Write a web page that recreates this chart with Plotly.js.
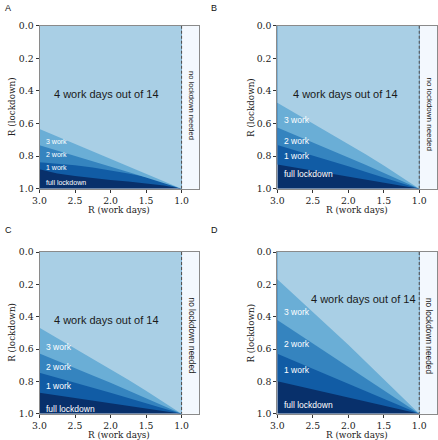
<!DOCTYPE html>
<html>
<head>
<meta charset="utf-8">
<script src="https://cdn.plot.ly/plotly-3.0.1.min.js"></script>
<style>html,body{margin:0;padding:0;background:#fff;}#chart{width:438px;height:440px;}</style>
</head>
<body>
<div id="chart"></div>
<script>
// R on work days (x axis)
const rWork = [3.0, 2.75, 2.5, 2.25, 2.0, 1.75, 1.5, 1.25, 1.0];

// Upper edges (R lockdown) of each band, panel A
const aFullTop  = [0.880, 0.906, 0.922, 0.935, 0.946, 0.956, 0.967, 0.980, 1.0];
const aOneTop   = [0.837, 0.845, 0.856, 0.870, 0.887, 0.906, 0.928, 0.956, 1.0];
const aTwoTop   = [0.733, 0.765, 0.797, 0.830, 0.863, 0.897, 0.931, 0.965, 1.0];
const aThreeTop = [0.634, 0.680, 0.726, 0.772, 0.817, 0.863, 0.909, 0.954, 1.0];
// panel B
const bFullTop  = [0.852, 0.870, 0.889, 0.907, 0.926, 0.944, 0.963, 0.981, 1.0];
const bOneTop   = [0.732, 0.764, 0.797, 0.830, 0.863, 0.897, 0.931, 0.965, 1.0];
const bTwoTop   = [0.625, 0.670, 0.716, 0.762, 0.808, 0.855, 0.903, 0.951, 1.0];
const bThreeTop = [0.472, 0.535, 0.598, 0.661, 0.725, 0.790, 0.858, 0.928, 1.0];
// panel C
const cFullTop  = [0.870, 0.886, 0.902, 0.918, 0.934, 0.951, 0.967, 0.983, 1.0];
const cOneTop   = [0.746, 0.776, 0.807, 0.839, 0.871, 0.903, 0.935, 0.967, 1.0];
const cTwoTop   = [0.628, 0.672, 0.717, 0.763, 0.809, 0.856, 0.903, 0.951, 1.0];
const cThreeTop = [0.468, 0.532, 0.596, 0.660, 0.725, 0.790, 0.858, 0.928, 1.0];
// panel D
const dFullTop  = [0.800, 0.825, 0.850, 0.875, 0.900, 0.925, 0.950, 0.975, 1.0];
const dOneTop   = [0.630, 0.676, 0.722, 0.768, 0.815, 0.861, 0.907, 0.954, 1.0];
const dTwoTop   = [0.420, 0.493, 0.566, 0.639, 0.712, 0.784, 0.856, 0.928, 1.0];
const dThreeTop = [0.168, 0.268, 0.368, 0.470, 0.574, 0.680, 0.786, 0.893, 1.0];

const panelLetters = ['A', 'B', 'C', 'D'];
const bandLabels = ['3 work', '2 work', '1 work', 'full lockdown'];
const mainLabel = '4 work days out of 14';
const sideLabel = 'no lockdown needed';
const xTitle = 'R (work days)';
const yTitle = 'R (lockdown)';
const xTicks = [3.0, 2.5, 2.0, 1.5, 1.0];
const yTicks = [0.0, 0.2, 0.4, 0.6, 0.8, 1.0];

const colLight = '#a9cfe5', col3 = '#6aaed6', col2 = '#3584bf', col1 = '#115ca5', colFull = '#08306b';

const panels = [
  {full: aFullTop, one: aOneTop, two: aTwoTop, three: aThreeTop, sfx: '',
   labY: [0.712, 0.793, 0.871, 0.965], labFs: 7, mainX: 2.06, mainY: 0.42, sideY: 0.49, sideFs: 7.5},
  {full: bFullTop, one: bOneTop, two: bTwoTop, three: bThreeTop, sfx: '2',
   labY: [0.579, 0.710, 0.800, 0.912], labFs: 8.5, mainX: 2.04, mainY: 0.42, sideY: 0.54, sideFs: 8},
  {full: cFullTop, one: cOneTop, two: cTwoTop, three: cThreeTop, sfx: '3',
   labY: [0.588, 0.709, 0.827, 0.969], labFs: 8.5, mainX: 2.06, mainY: 0.42, sideY: 0.52, sideFs: 8.3},
  {full: dFullTop, one: dOneTop, two: dTwoTop, three: dThreeTop, sfx: '4',
   labY: [0.371, 0.567, 0.732, 0.946], labFs: 8.5, mainX: 1.78, mainY: 0.29, sideY: 0.52, sideFs: 8.3}
];

const sans = 'Liberation Sans, Arial, sans-serif';
const serif = 'DejaVu Serif';
const traces = [], shapes = [], annotations = [];
panels.forEach((p, i) => {
  const xr = 'x' + p.sfx, yr = 'y' + p.sfx;
  shapes.push({type: 'rect', xref: xr, yref: yr, x0: rWork[0], x1: rWork[rWork.length - 1], y0: 0, y1: 1,
               fillcolor: colFull, line: {width: 0}, layer: 'below'});
  [[p.full, col1], [p.one, col2], [p.two, col3], [p.three, colLight]].forEach(([ys, c]) => {
    traces.push({x: rWork, y: ys, xaxis: xr, yaxis: yr, type: 'scatter', mode: 'lines',
                 line: {width: 0, color: c}, fill: 'tozeroy', fillcolor: c, hoverinfo: 'skip', showlegend: false});
  });
  shapes.push({type: 'line', xref: xr, yref: yr, x0: 1.0, x1: 1.0, y0: 0, y1: 1,
               line: {color: '#555', width: 1.1, dash: '3px,2px'}});
  annotations.push({xref: xr, yref: yr, x: p.mainX, y: p.mainY, text: mainLabel, showarrow: false,
                    font: {family: sans, size: 11, color: '#1a1a1a'}});
  annotations.push({xref: xr, yref: yr, x: 0.86, y: p.sideY, text: sideLabel, showarrow: false, textangle: 90,
                    font: {family: sans, size: p.sideFs, color: '#1a1a1a'}});
  bandLabels.forEach((t, k) => {
    annotations.push({xref: xr, yref: yr, x: 2.93, y: p.labY[k], text: t, showarrow: false, xanchor: 'left',
                      font: {family: sans, size: p.labFs, color: '#ffffff'}});
  });
});

const letterPos = [[3, 8], [209, 8], [3, 230], [209, 230]];
panelLetters.forEach((l, i) => {
  annotations.push({xref: 'paper', yref: 'paper', x: letterPos[i][0] / 438, y: 1 - letterPos[i][1] / 440,
                    xanchor: 'left', yanchor: 'middle', text: l, showarrow: false,
                    font: {family: sans, size: 9, color: '#111'}});
});

// axis titles (pixel centres)
const xTitlePos = [[119.4, 210.3], [357.2, 210.3], [119.4, 434.6], [357.2, 434.6]];
const yTitlePos = [[12.0, 107.2], [250.8, 107.2], [12.0, 332.8], [250.8, 332.8]];
xTitlePos.forEach(([px, py]) => {
  annotations.push({xref: 'paper', yref: 'paper', x: px / 438, y: 1 - py / 440, xanchor: 'center', yanchor: 'middle',
                    text: xTitle, showarrow: false, font: {family: serif, size: 8.8, color: '#222'}});
});
yTitlePos.forEach(([px, py]) => {
  annotations.push({xref: 'paper', yref: 'paper', x: px / 438, y: 1 - py / 440, xanchor: 'center', yanchor: 'middle',
                    text: yTitle, showarrow: false, textangle: -90, font: {family: serif, size: 8.8, color: '#222'}});
});

function axX(dom, anchor) {
  return {domain: dom, anchor: anchor, range: [3.0, 0.75], tickvals: xTicks, tickformat: '.1f',
          ticks: 'outside', ticklen: 3, tickcolor: '#333', showline: true, mirror: true,
          linecolor: '#8a8a8a', linewidth: 1, showgrid: false, zeroline: false,
          tickfont: {family: serif, size: 9.3, color: '#222'}};
}
function axY(dom, anchor) {
  return {domain: dom, anchor: anchor, range: [1.0, 0.0], tickvals: yTicks, tickformat: '.1f',
          ticks: 'outside', ticklen: 3, tickcolor: '#333', showline: true, mirror: true,
          linecolor: '#8a8a8a', linewidth: 1, showgrid: false, zeroline: false,
          tickfont: {family: serif, size: 9.3, color: '#222'}};
}
const xL = [39.5 / 438, 199.3 / 438], xR = [277.3 / 438, 437 / 438];
const yT = [1 - 188.7 / 440, 1 - 25.7 / 440], yB = [1 - 413.7 / 440, 1 - 252 / 440];

const layout = {
  width: 438, height: 440, margin: {l: 0, r: 0, t: 0, b: 0},
  paper_bgcolor: '#ffffff', plot_bgcolor: '#f3f8fe', showlegend: false,
  xaxis: axX(xL, 'y'), yaxis: axY(yT, 'x'),
  xaxis2: axX(xR, 'y2'), yaxis2: axY(yT, 'x2'),
  xaxis3: axX(xL, 'y3'), yaxis3: axY(yB, 'x3'),
  xaxis4: axX(xR, 'y4'), yaxis4: axY(yB, 'x4'),
  shapes: shapes, annotations: annotations
};
Plotly.newPlot('chart', traces, layout, {staticPlot: true, displayModeBar: false});
</script>
</body>
</html>
